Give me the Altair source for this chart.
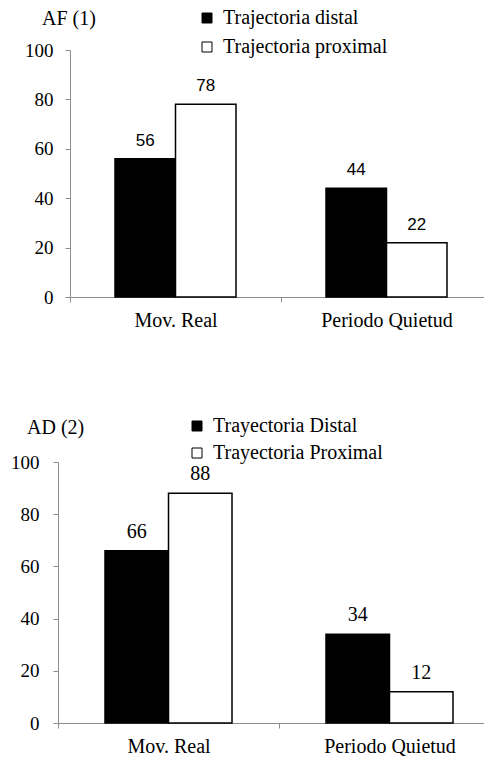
import altair as alt
import pandas as pd

categories = ["Mov. Real", "Periodo Quietud"]

af_title = "AF (1)"
af_series = ["Trajectoria distal", "Trajectoria proximal"]
af_distal = [56, 44]
af_proximal = [78, 22]

ad_title = "AD (2)"
ad_series = ["Trayectoria Distal", "Trayectoria Proximal"]
ad_distal = [66, 34]
ad_proximal = [88, 12]

y_ticks = [0, 20, 40, 60, 80, 100]

SERIF = "Liberation Serif"
AXIS_GRAY = "#8c8c8c"


def panel(title, series, distal, proximal, width, height, x_range, pad_outer,
          legend_x, legend_y, row_pad, title_x, title_y,
          value_font, value_size, value_dy, y_offset, y_label_pad, min_extent):
    df = pd.DataFrame({
        "cat": categories * 2,
        "series": [series[0]] * 2 + [series[1]] * 2,
        "value": list(distal) + list(proximal),
    })
    yaxis_kw = dict(title=None, values=y_ticks, grid=False,
                    domainColor=AXIS_GRAY, tickColor=AXIS_GRAY,
                    tickSize=5, labelFont=SERIF, labelFontSize=19,
                    labelColor="black", labelPadding=y_label_pad)
    if y_offset:
        yaxis_kw["offset"] = y_offset
    if min_extent:
        yaxis_kw["minExtent"] = min_extent
    base = alt.Chart(df).encode(
        x=alt.X(
            "cat:N", sort=categories,
            scale=alt.Scale(range=x_range, paddingInner=0, paddingOuter=0),
            axis=alt.Axis(title=None, labelAngle=0, tickBand="extent",
                          domainColor=AXIS_GRAY, tickColor=AXIS_GRAY,
                          tickSize=5, labelFont=SERIF, labelFontSize=20,
                          labelColor="black", labelPadding=8),
        ),
        xOffset=alt.XOffset("series:N", sort=series,
                            scale=alt.Scale(paddingOuter=pad_outer, paddingInner=0)),
        y=alt.Y(
            "value:Q",
            scale=alt.Scale(domain=[0, 100], nice=False),
            axis=alt.Axis(**yaxis_kw),
        ),
    )
    bars = base.mark_bar(stroke="black", strokeWidth=1.5).encode(
        color=alt.Color(
            "series:N", sort=series,
            scale=alt.Scale(domain=series, range=["black", "white"]),
            legend=alt.Legend(
                title=None, orient="none", legendX=legend_x, legendY=legend_y,
                direction="vertical", labelFont=SERIF, labelFontSize=20,
                labelColor="black", symbolType="square", symbolSize=100,
                symbolStrokeColor="black", symbolStrokeWidth=1,
                symbolOpacity=1, labelOffset=6, rowPadding=row_pad,
                padding=0, labelLimit=0,
            ),
        )
    )
    labels = base.mark_text(
        font=value_font, fontSize=value_size, baseline="middle",
        align="center", dy=value_dy, color="black",
    ).encode(text="value:Q")
    title_layer = alt.Chart(pd.DataFrame({"t": [title]})).mark_text(
        font=SERIF, fontSize=20, align="left", baseline="middle", color="black"
    ).encode(x=alt.value(title_x), y=alt.value(title_y), text="t:N")
    return alt.layer(bars, labels, title_layer).properties(width=width, height=height)


top = panel(af_title, af_series, af_distal, af_proximal,
            width=434, height=247, x_range=[12, 434], pad_outer=0.744,
            legend_x=139, legend_y=-42, row_pad=9,
            title_x=-16, title_y=-31,
            value_font="Liberation Sans", value_size=17, value_dy=-18,
            y_offset=-12, y_label_pad=12, min_extent=0)

bottom = panel(ad_title, ad_series, ad_distal, ad_proximal,
               width=442, height=261, x_range=[0, 442], pad_outer=0.74,
               legend_x=129, legend_y=-46, row_pad=7,
               title_x=-31, title_y=-34,
               value_font=SERIF, value_size=20, value_dy=-19,
               y_offset=0, y_label_pad=14, min_extent=50)

chart = alt.vconcat(top, bottom, spacing=165, bounds="flush").resolve_scale(
    x="independent", y="independent", color="independent", xOffset="independent"
).properties(
    padding={"left": 0, "top": 0, "right": -17, "bottom": 0},
    background="white",
).configure_view(stroke=None)

chart.save("out.html", embed_options={"renderer": "svg", "actions": False})
